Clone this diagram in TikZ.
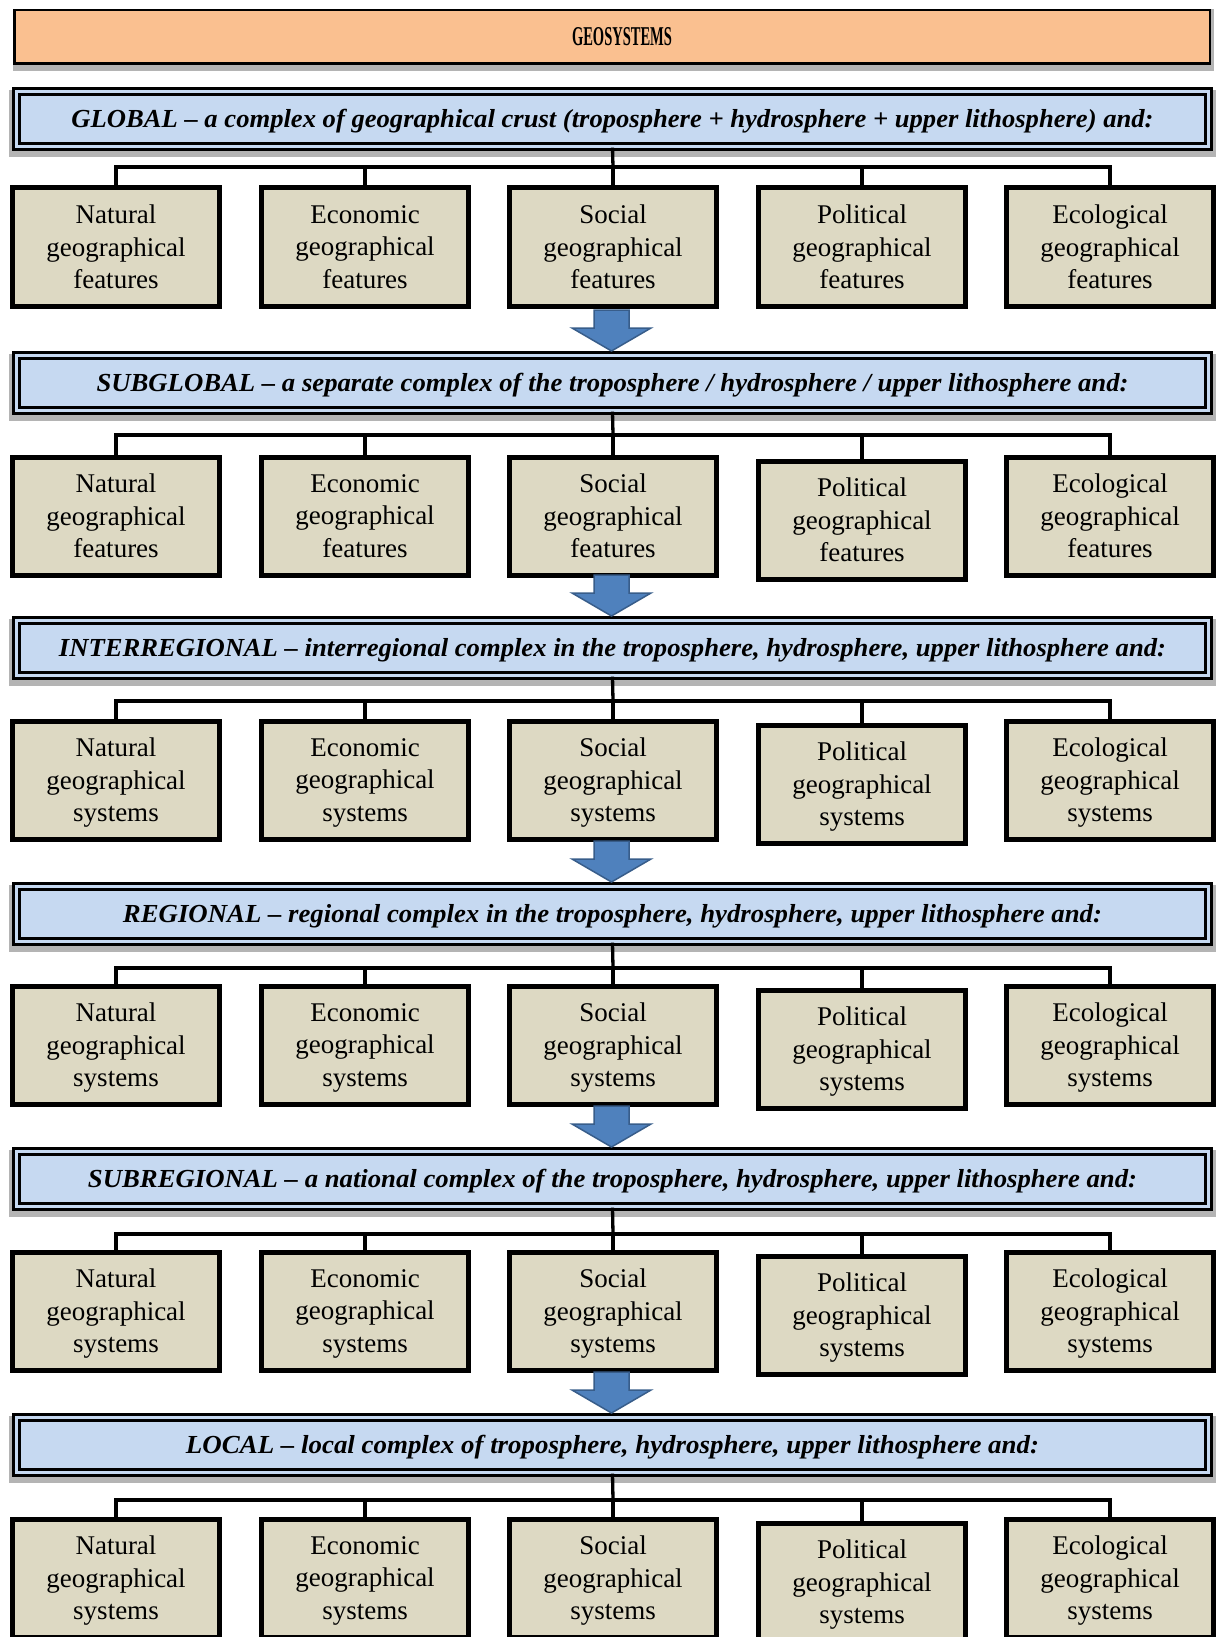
\documentclass[tikz,border=0pt]{standalone}
\usepackage{fontspec}
\setmainfont{Liberation Serif}
\usepackage{graphicx}
\usetikzlibrary{backgrounds}
\definecolor{orangefill}{HTML}{FAC090}
\definecolor{headfill}{HTML}{C6D9F1}
\definecolor{boxfill}{HTML}{DDD9C3}
\definecolor{arrowfill}{HTML}{4F81BD}
\definecolor{arrowline}{HTML}{385D8A}
\definecolor{shadowc}{HTML}{B4B4B4}
\begin{document}
\begin{tikzpicture}[x=1pt,y=-1pt,
  titlebox/.style={draw=black,line width=2.5pt,fill=orangefill,minimum width=1195.5pt,minimum height=53.5pt,inner sep=0pt},
  headbox/.style={draw=black,line width=2.4pt,double=headfill,double distance=3.4pt,fill=headfill,
    minimum width=1192pt,minimum height=55pt,inner sep=0pt,text height=17.5pt,text depth=0pt,
    font=\fontsize{26}{30}\selectfont\bfseries\itshape},
  gbox/.style={draw=black,line width=5pt,fill=boxfill,minimum width=207pt,minimum height=118pt,
    inner sep=0pt,align=center,text depth=0pt,font=\fontsize{27}{32.5}\selectfont},
  conn/.style={draw=black,line width=3.3pt},
  blockarrow/.style={fill=arrowfill,draw=arrowline,line width=1.5pt,line join=miter}
]
\useasboundingbox (0,0) rectangle (1216,1637);

% title
\node[titlebox] (title) at (612,37) {\hspace*{20pt}\resizebox{100pt}{18pt}{\fontsize{30}{34}\selectfont\bfseries GEOSYSTEMS}};
\begin{scope}[on background layer]
\fill[shadowc] ([xshift=0pt,yshift=-6pt]title.south west) rectangle ([xshift=3pt]title.north east);
\end{scope}

% headings
\node[headbox] (h1) at (612.5,119) {\resizebox{1082pt}{\height}{GLOBAL -- a complex of geographical crust (troposphere + hydrosphere + upper lithosphere) and:}};
\node[headbox] (h2) at (612.5,383) {\resizebox{1032pt}{\height}{SUBGLOBAL -- a separate complex of the troposphere / hydrosphere / upper lithosphere and:}};
\node[headbox] (h3) at (612.5,648) {\resizebox{1107pt}{\height}{INTERREGIONAL -- interregional complex in the troposphere, hydrosphere, upper lithosphere and:}};
\node[headbox] (h4) at (612.5,914) {\resizebox{979pt}{\height}{REGIONAL -- regional complex in the troposphere, hydrosphere, upper lithosphere and:}};
\node[headbox] (h5) at (612.5,1179) {\resizebox{1049pt}{\height}{SUBREGIONAL -- a national complex of the troposphere, hydrosphere, upper lithosphere and:}};
\node[headbox] (h6) at (612.5,1445) {\resizebox{853pt}{\height}{LOCAL -- local complex of troposphere, hydrosphere, upper lithosphere and:}};
\begin{scope}[on background layer]
\foreach \k in {1,...,6}{
  \fill[shadowc] ([xshift=-6pt,yshift=-9.5pt]h\k.south west) rectangle ([xshift=6pt]h\k.north east);
}
\end{scope}

% boxes and connectors
\foreach \k/\ly/\cy/\w/\po in {1/167/247/features/0,2/435/516/features/4,3/701/780/systems/4,4/968/1045/systems/4,5/1234/1311/systems/4,6/1500/1578/systems/4}{
  \node[gbox] (b\k-1) at (116,\cy) {Natural\\geographical\\\w};
  \node[gbox] (b\k-2) at (365,\cy) {Economic\\geographical\\\w};
  \node[gbox] (b\k-3) at (613,\cy) {Social\\geographical\\\w};
  \node[gbox] (b\k-4) at (862,\cy+\po) {Political\\geographical\\\w};
  \node[gbox] (b\k-5) at (1110,\cy) {Ecological\\geographical\\\w};
  \coordinate (j\k) at (613,\ly);
  \draw[conn] (h\k.south) -- (j\k);
  \draw[conn] (b\k-1.north) |- (j\k) -| (b\k-5.north);
  \draw[conn] (b\k-2.north) -- (b\k-2.north |- j\k);
  \draw[conn] (b\k-3.north) -- (j\k);
  \draw[conn] (b\k-4.north) -- (b\k-4.north |- j\k);
}

% block arrows between levels
\foreach \t in {351,616,882,1147,1413}{
  \filldraw[blockarrow] (594,\t-41) -- (629,\t-41) -- (629,\t-23) -- (651,\t-23) -- (611.5,\t) -- (572,\t-23) -- (594,\t-23) -- cycle;
}
\end{tikzpicture}
\end{document}
